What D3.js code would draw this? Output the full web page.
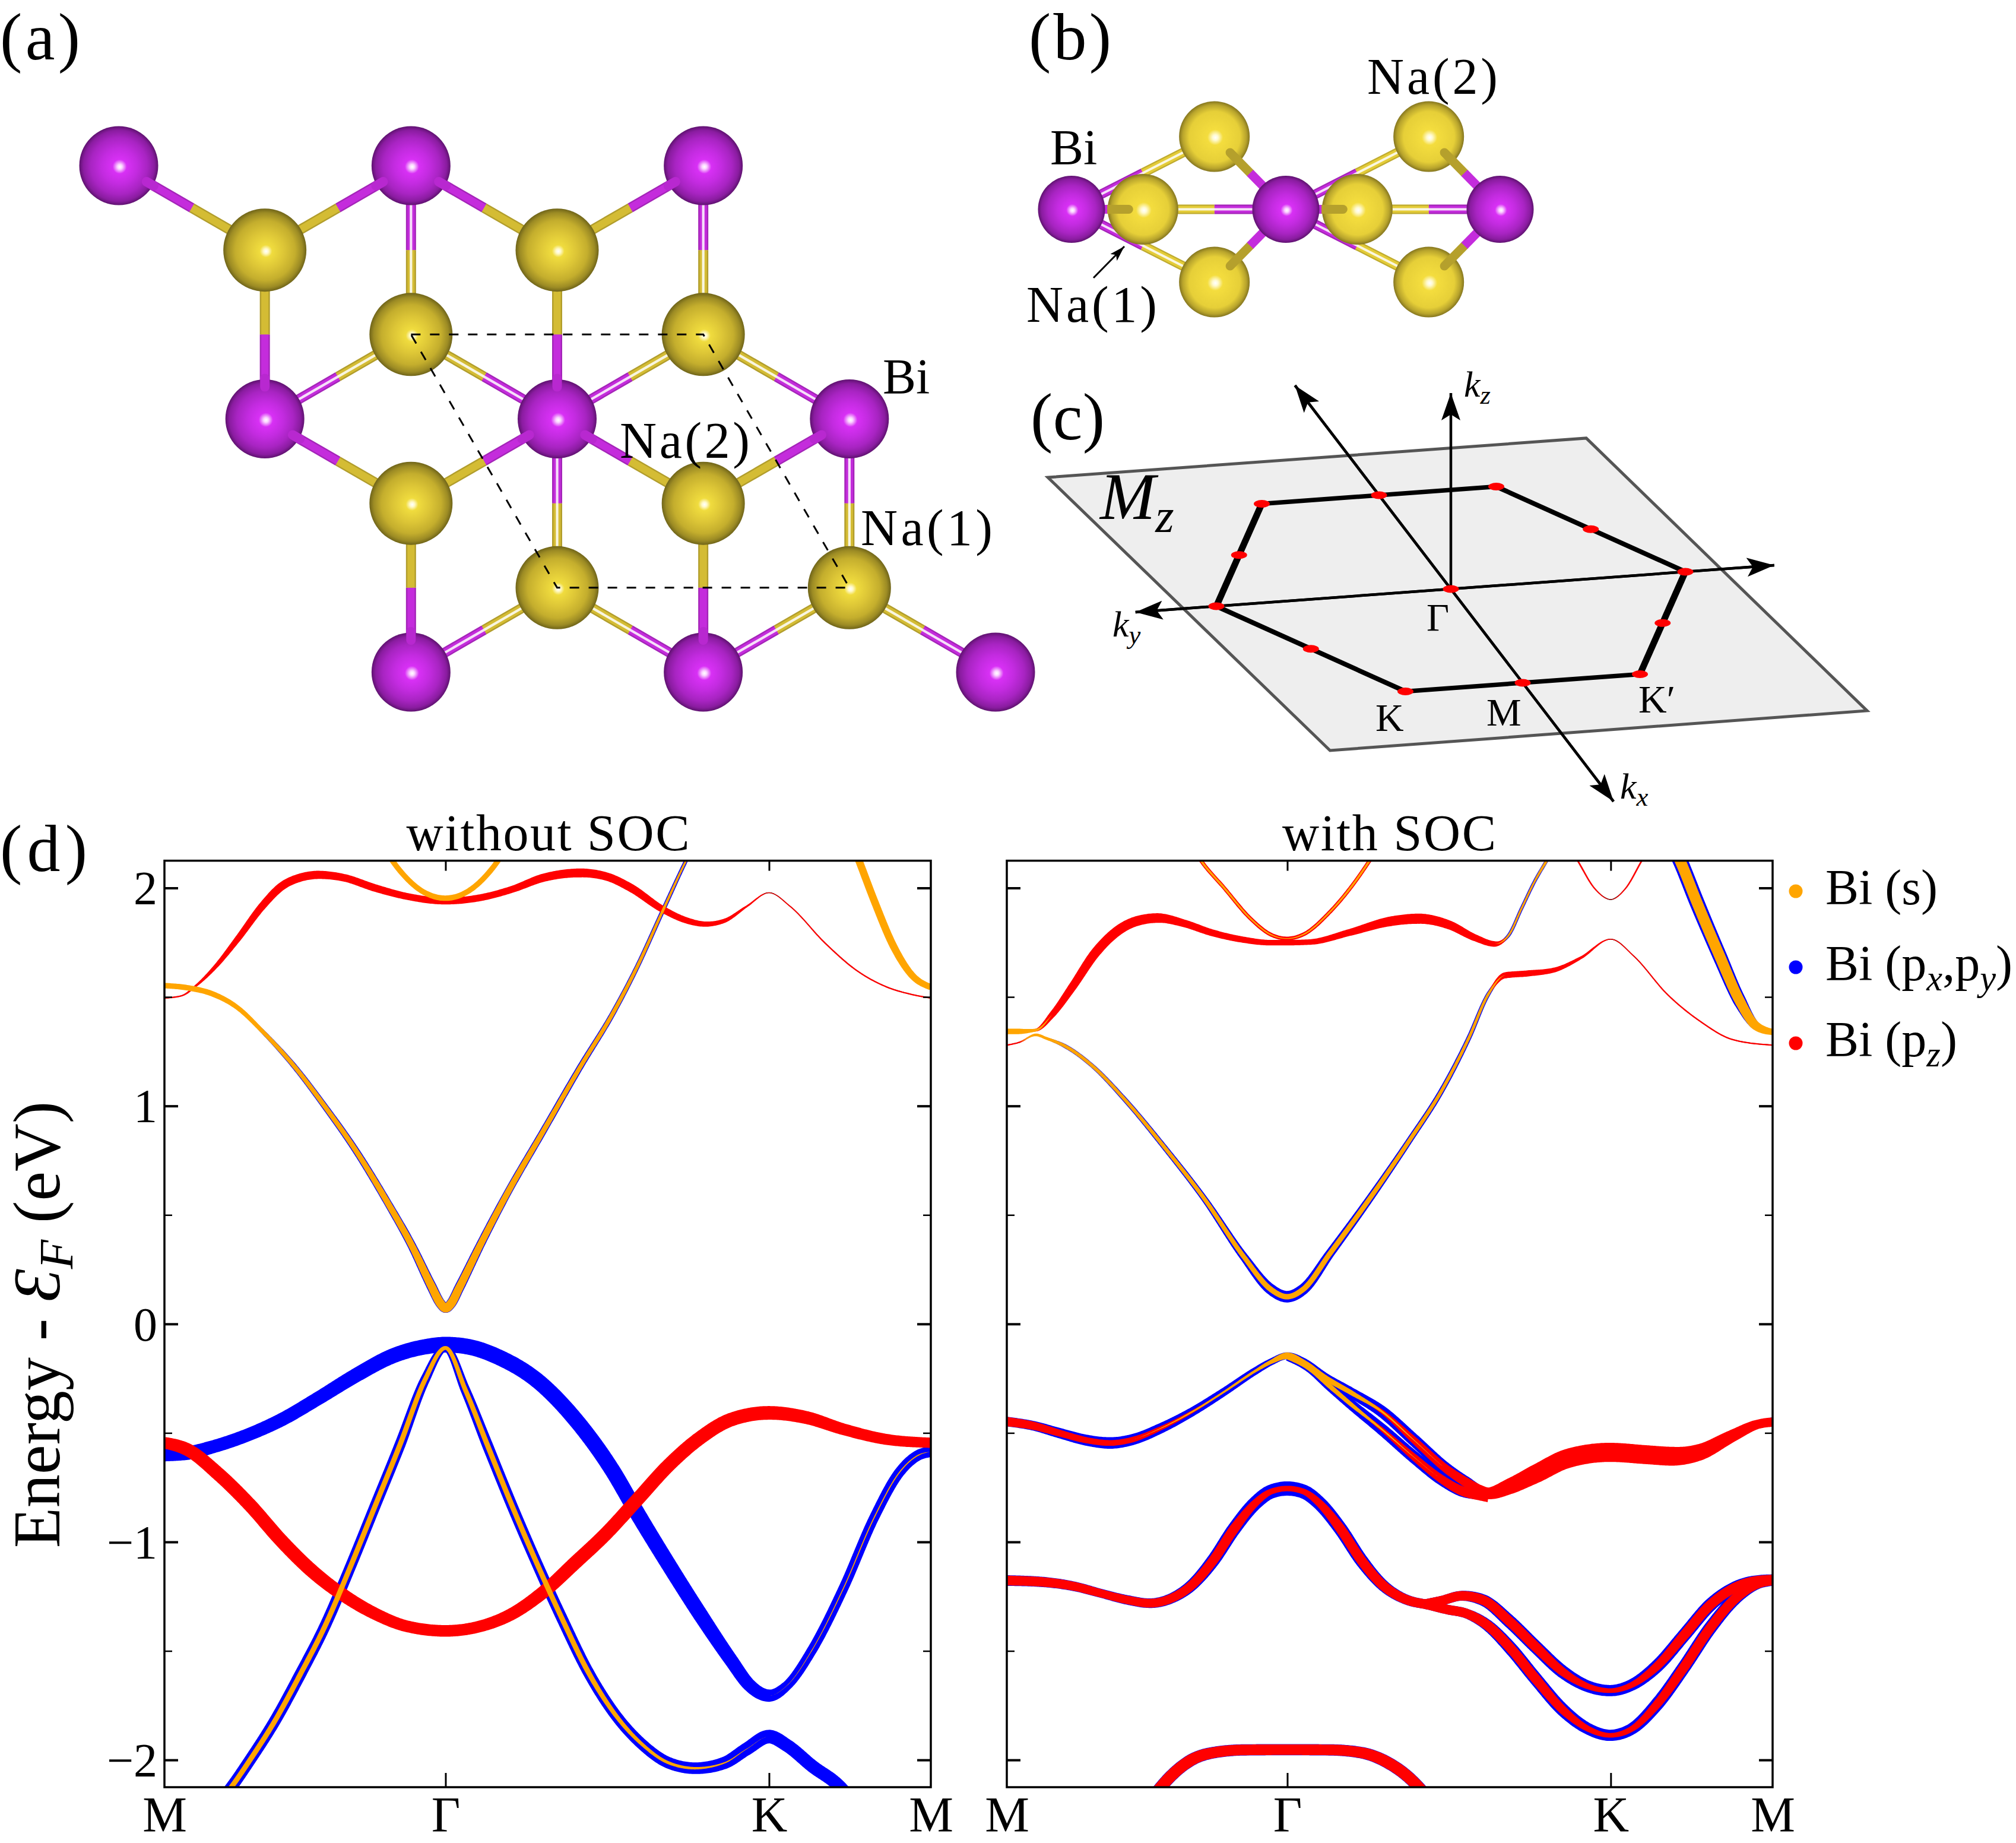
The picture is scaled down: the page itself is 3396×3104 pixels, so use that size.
<!DOCTYPE html>
<html><head><meta charset="utf-8">
<script src="https://cdn.jsdelivr.net/npm/d3@7/dist/d3.min.js"></script>
<style>html,body{margin:0;padding:0;background:#fff}svg{display:block}text{font-family:"Liberation Serif",serif;fill:#000}</style>
</head><body><div id="chart"></div>
<script>
// ---------- DATA ----------
// Fat-band rows: [k (path length), E (eV), weight s, weight px/py, weight pz]
const nsUpperPz=[[0,1.495,0,0,.1],[27,1.505,0,0,.1],[52,1.555,0,0,.17],[82,1.64,0,0,.3],[117,1.765,0,0,.45],[157,1.918,0,0,.55],[187,2.006,0,0,.6],[217,2.047,0,0,.6],[247,2.06,0,0,.6],[287,2.047,0,0,.55],[337,2.0,0,0,.55],[387,1.962,0,0,.5],[450,1.94,0,0,.5],[507,1.956,0,0,.5],[557,1.994,0,0,.5],[607,2.047,0,0,.6],[667,2.069,0,0,.65],[707,2.053,0,0,.6],[747,2.0,0,0,.6],[797,1.903,0,0,.5],[837,1.85,0,0,.45],[867,1.834,0,0,.38],[897,1.85,0,0,.3],[932,1.915,0,0,.14],[968,1.978,0,0,.05],[1002,1.915,0,0,.08],[1057,1.749,0,0,.1],[1107,1.624,0,0,.1],[1157,1.545,0,0,.1],[1197,1.511,0,0,.1],[1227,1.495,0,0,.1]];
const nsCond=[[0,1.552,.4,0,0],[37,1.542,.4,0,0],[77,1.514,.4,0,0],[117,1.451,.35,.1,0],[157,1.342,.3,.3,0],[207,1.185,.32,.4,0],[257,.997,.35,.45,0],[307,.793,.38,.5,0],[357,.558,.45,.55,0],[397,.354,.5,.62,0],[427,.176,.6,.72,0],[442,.094,.65,.72,0],[450,.072,.65,.7,0],[459,.094,.65,.72,0],[472,.166,.6,.72,0],[507,.37,.5,.62,0],[547,.589,.45,.55,0],[607,.887,.38,.5,0],[667,1.185,.32,.45,0],[717,1.42,.3,.4,0],[757,1.639,.25,.35,0],[797,1.89,.2,.32,0],[835,2.125,.15,.28,0],[857,2.25,.15,.28,0]];
const nsTopS=[[345,2.22,.4,0,0],[365,2.125,.4,0,0],[387,2.047,.4,0,0],[417,1.978,.4,0,0],[450,1.953,.4,0,0],[482,1.978,.4,0,0],[512,2.047,.4,0,0],[534,2.125,.4,0,0],[554,2.22,.4,0,0]];
const nsRightS=[[1095,2.25,.55,0,0],[1112,2.125,.55,0,0],[1137,1.937,.55,0,0],[1167,1.734,.55,0,0],[1197,1.599,.5,0,0],[1227,1.545,.45,0,0]];
const nsBluePxy=[[0,-.599,0,1.0,0],[37,-.592,0,1.0,0],[77,-.564,0,.95,0],[137,-.505,0,.95,0],[187,-.44,0,.98,0],[247,-.34,0,1.0,0],[307,-.235,0,1.05,0],[367,-.145,0,1.1,0],[417,-.105,0,1.12,0],[450,-.095,0,1.15,0],[487,-.105,0,1.15,0],[537,-.155,0,1.15,0],[597,-.26,0,1.15,0],[657,-.435,0,1.15,0],[717,-.671,0,1.15,0],[757,-.868,0,1.15,0],[807,-1.103,0,1.12,0],[857,-1.329,0,1.1,0],[907,-1.542,0,1.0,0],[937,-1.658,0,.95,0],[968,-1.705,0,.9,0],[997,-1.658,.02,.7,0],[1037,-1.495,.05,.72,0],[1087,-1.213,.07,.72,0],[1137,-.884,.08,.72,0],[1177,-.68,.08,.75,0],[1207,-.602,.08,.78,0],[1227,-.586,0,.8,0]];
const nsRedPz=[[0,-.545,0,0,.85],[37,-.577,0,0,.95],[87,-.69,0,0,1.0],[137,-.831,0,0,1.0],[187,-.994,0,0,1.0],[237,-1.135,0,0,1.0],[287,-1.245,0,0,.95],[337,-1.329,0,0,.9],[387,-1.386,0,0,.85],[450,-1.408,0,0,.85],[507,-1.386,0,0,.85],[557,-1.329,0,0,.9],[607,-1.229,0,0,.95],[657,-1.097,0,0,1.0],[707,-.962,0,0,1.0],[757,-.806,0,0,1.0],[807,-.649,0,0,1.0],[857,-.524,0,0,1.0],[907,-.439,0,0,1.0],[968,-.408,0,0,1.0],[1027,-.429,0,0,.95],[1087,-.483,0,0,.85],[1157,-.53,0,0,.8],[1227,-.545,0,0,.75]];
const nsDeep=[[77,-2.232,.38,.85,0],[107,-2.125,.38,.85,0],[137,-2.0,.38,.85,0],[177,-1.82,.38,.85,0],[217,-1.61,.38,.85,0],[257,-1.386,.38,.82,0],[297,-1.119,.38,.8,0],[337,-.837,.38,.8,0],[377,-.555,.38,.8,0],[417,-.257,.35,.7,0],[450,-.11,.28,.5,0],[482,-.304,.35,.7,0],[517,-.555,.38,.8,0],[557,-.837,.38,.8,0],[597,-1.103,.38,.8,0],[637,-1.354,.38,.82,0],[677,-1.589,.38,.82,0],[722,-1.793,.32,.82,0],[767,-1.934,.25,.82,0],[807,-2.013,.22,.85,0],[850,-2.038,.18,.85,0],[897,-2.013,.1,.9,0],[932,-1.95,.03,.95,0],[968,-1.893,0,1.0,0],[997,-1.934,0,.95,0],[1037,-2.028,0,.95,0],[1082,-2.125,0,.95,0],[1112,-2.232,0,.95,0]];

const socUpper=[[0,1.342,.4,0,.1],[19,1.342,.4,0,.1],[44,1.348,.2,0,.2],[69,1.42,0,0,.45],[99,1.545,0,0,.6],[134,1.702,0,0,.7],[169,1.806,0,0,.72],[199,1.85,0,0,.72],[229,1.862,0,0,.7],[269,1.837,0,0,.55],[309,1.796,0,0,.5],[359,1.762,0,0,.45],[399,1.749,0,0,.4],[424,1.749,0,0,.4],[459,1.752,0,0,.4],[519,1.796,0,0,.5],[579,1.846,0,0,.7],[624,1.859,0,0,.75],[669,1.831,0,0,.65],[709,1.771,0,0,.5],[739,1.743,0,.15,.4],[759,1.781,.15,.25,.1],[779,1.906,.15,.25,.1],[799,2.031,.15,.25,.1],[817,2.125,.2,.25,.05],[835,2.22,.2,.25,.05]];
const socLower=[[0,1.279,0,0,.1],[19,1.292,0,0,.1],[44,1.326,.2,0,.1],[60,1.31,.2,.15,.1],[89,1.273,.25,.3,.05],[129,1.185,.25,.3,.05],[179,1.028,.25,.35,0],[239,.809,.28,.4,0],[299,.574,.3,.45,0],[359,.307,.35,.6,0],[399,.16,.4,.8,0],[424,.125,.4,.85,0],[449,.16,.4,.8,0],[489,.323,.38,.65,0],[549,.574,.35,.55,0],[609,.84,.3,.45,0],[659,1.075,.25,.4,0],[699,1.31,.22,.35,.1],[729,1.514,.2,.3,.15],[754,1.599,0,.1,.45],[789,1.608,0,0,.45],[829,1.624,0,0,.35],[869,1.68,0,0,.2],[914,1.765,0,0,.06],[949,1.687,0,0,.08],[999,1.514,0,0,.1],[1049,1.389,0,0,.1],[1099,1.304,0,0,.1],[1159,1.279,0,0,.1]];
const socTopGamma=[[274,2.22,.15,.1,.28],[294,2.125,.15,.1,.28],[329,2.0,.15,.1,.28],[369,1.859,.12,.08,.28],[399,1.787,.1,0,.28],[424,1.768,.05,0,.28],[449,1.787,.1,0,.28],[489,1.89,.12,.08,.28],[524,2.016,.15,.1,.28],[549,2.125,.15,.1,.28],[569,2.22,.15,.1,.28]];
const socTopK=[[845,2.22,0,0,.12],[864,2.125,0,0,.12],[889,2.0,0,0,.1],[914,1.947,0,0,.03],[937,2.0,0,0,.1],[961,2.125,0,0,.12],[980,2.22,0,0,.12]];
const socRightS=[[1004,2.22,.8,1.1,.05],[1019,2.125,.8,1.1,.05],[1044,1.937,.8,1.1,.05],[1079,1.687,.8,1.05,.05],[1109,1.483,.75,.95,.05],[1134,1.367,.65,.6,0],[1159,1.339,.45,0,0]];
const socVbUpper=[[0,-.448,0,.7,.68],[40,-.467,0,.7,.6],[80,-.501,0,.75,.5],[120,-.533,0,.8,.45],[156,-.546,0,.85,.42],[192,-.529,0,.8,.4],[232,-.48,.05,.75,.3],[280,-.404,.12,.65,.2],[328,-.313,.15,.6,.1],[376,-.216,.2,.55,.05],[400,-.174,.3,.5,0],[424.5,-.146,.5,.5,0],[449,-.175,.35,.6,.05],[481,-.245,.4,.7,.08],[521,-.315,.35,.75,.1],[569,-.405,.15,.85,.3],[617,-.535,.05,.9,.5],[665,-.665,0,.9,.6],[697,-.73,0,.85,.7],[717,-.765,0,.7,.8],[729,-.777,0,.5,.85],[761,-.745,0,.5,1.15],[801,-.687,0,.5,1.35],[849,-.617,0,.5,1.4],[913,-.589,0,.5,1.4],[969,-.6,0,.5,1.38],[1009,-.607,0,.5,1.38],[1049,-.588,0,.5,1.2],[1097,-.515,0,.5,.9],[1137,-.46,0,.5,.68],[1159,-.45,0,.7,.68]];
const socVbLower=[[424.5,-.153,.3,.5,0],[457,-.202,.35,.6,.05],[489,-.286,.35,.7,.08],[521,-.369,.3,.75,.1],[569,-.487,.12,.85,.3],[617,-.613,.03,.9,.5],[657,-.71,0,.9,.6],[689,-.766,0,.85,.7],[717,-.785,0,.7,.8],[729,-.791,0,.4,.85]];
const socMidShared=[[0,-1.177,0,.78,.72],[56,-1.184,0,.75,.7],[104,-1.205,0,.7,.65],[144,-1.237,0,.65,.6],[184,-1.267,0,.7,.62],[216,-1.281,0,.7,.65],[248,-1.26,0,.75,.65],[280,-1.198,0,.85,.68],[312,-1.086,0,.95,.7],[344,-.94,0,.98,.72],[376,-.822,0,1.0,.55],[400,-.769,0,1.03,.42],[424.5,-.755,0,1.05,.4],[449,-.769,0,1.03,.42],[473,-.822,0,1.0,.55],[505,-.94,0,.98,.72],[537,-1.086,0,.95,.72],[569,-1.198,0,.85,.72],[601,-1.26,0,.75,.7],[633,-1.285,0,.7,.7]];
const socMidUpper=[[633,-1.285,0,.7,.7],[657,-1.27,0,.7,.7],[689,-1.247,0,.72,.7],[721,-1.267,0,.85,.72],[761,-1.365,0,.95,.72],[801,-1.483,0,.95,.72],[841,-1.595,0,.95,.62],[881,-1.664,0,.85,.42],[913,-1.682,0,.82,.33],[945,-1.657,0,.85,.42],[985,-1.567,0,.95,.62],[1025,-1.428,0,.95,.72],[1065,-1.288,0,.95,.72],[1105,-1.205,0,.9,.72],[1137,-1.177,0,.78,.7],[1159,-1.173,0,.78,.72]];
const socMidLower=[[633,-1.285,0,.7,.7],[665,-1.309,0,.7,.7],[697,-1.33,0,.72,.7],[729,-1.386,0,.85,.72],[761,-1.483,0,.95,.72],[801,-1.63,0,.95,.72],[841,-1.769,0,.95,.62],[881,-1.859,0,.85,.42],[913,-1.887,0,.82,.33],[945,-1.859,0,.85,.42],[985,-1.741,0,.95,.62],[1025,-1.574,0,.95,.72],[1065,-1.393,0,.95,.72],[1105,-1.253,0,.9,.72],[1137,-1.191,0,.78,.7],[1159,-1.177,0,.78,.72]];
const socDeep=[[200,-2.26,0,.9,.85],[224,-2.159,0,.9,.85],[248,-2.075,0,.9,.85],[280,-1.999,0,.9,.85],[312,-1.967,0,.85,.8],[360,-1.954,0,.82,.78],[424.5,-1.953,0,.82,.78],[489,-1.954,0,.82,.78],[537,-1.967,0,.85,.8],[577,-2.013,0,.9,.85],[609,-2.082,0,.9,.85],[633,-2.159,0,.9,.85],[657,-2.26,0,.9,.85]];

const noSocBands=[nsCond,nsTopS,nsRightS,nsBluePxy,nsRedPz,nsDeep,nsUpperPz];
const socBands=[socUpper,socLower,socTopGamma,socTopK,socRightS,socVbUpper,socVbLower,socMidShared,socMidUpper,socMidLower,socDeep];
const energyMajorTicks=[-2,-1,0,1,2], energyMinorTicks=[-1.5,-.5,.5,1.5];
const kLabels=["M","Γ","K","M"];
const noSocKTicks=[0,450,968,1227], socKTicks=[0,424.5,914,1159];
const legendEntries=[[["Bi (s)",""]],[["Bi (p",""],["x","si"],[",p",""],["y","si"],[")",""]],[["Bi (p",""],["z","si"],[")",""]]];
const legendColours=["#ffa500","#0000ff","#ff0000"];

// Panel (a) lattice: [column,row]
const aBi=[[0,0],[2,0],[4,0],[1,3],[3,3],[5,3],[2,6],[4,6],[6,6]];
const aNa=[[1,1],[3,1],[2,2],[4,2],[2,4],[4,4],[3,5],[5,5]];
const aBonds=[[0,0,1,1],[2,0,1,1],[2,0,3,1],[4,0,3,1],[1,3,1,1],[3,3,3,1],[1,3,2,4],[3,3,2,4],[3,3,4,4],[5,3,4,4],[2,6,2,4],[4,6,4,4]];
const aBrightBonds=[[2,0,2,2],[4,0,4,2],[3,3,3,5],[5,3,5,5],[1,3,2,2],[3,3,2,2],[3,3,4,2],[5,3,4,2],[2,6,3,5],[4,6,3,5],[4,6,5,5],[6,6,5,5]];
const aCell=[[2,2],[4,2],[5,5],[3,5]];
// Panel (b) lattice
const bBi=[[0,0],[3,0],[6,0]];
const bNa1=[[1,0],[4,0]];
const bNa2=[[2,-1],[2,1],[5,-1],[5,1]];
const bBackBonds=[[0,0,2,-1],[0,0,2,1],[3,0,5,-1],[3,0,5,1],[3,0,1,0],[6,0,4,0]];
const bFrontBonds=[[3,0,2,-1,.78],[3,0,2,1,.78],[6,0,5,-1,.78],[6,0,5,1,.78],[0,0,1,0,.8],[3,0,4,0,.8]];
// Panel (c): reciprocal coordinates [kx,ky]
const cPlane=[[-1.425,1.282],[-1.422,-1.013],[1.537,-1.304],[1.54,.987]];
const cHexK=[[0,1],[1,.5],[1,-.5],[0,-1],[-1,-.5],[-1,.5]];
const cHexEdgeWeight=[8,7.5,11,8,7.5,11];
const cHexM=[[1,0],[.5,.75],[-.5,.75],[-1,0],[-.5,-.75],[.5,-.75]];
const cGamma=[0,0];
const cAxisKy=[[0,-1.379],[0,1.345]];
const cAxisKx=[[-2.17,0],[2.265,0]];
const cAxisKz=1;

// ---------- SET-UP ----------
const W=3396,H=3104;
const svg=d3.select("#chart").append("svg").attr("width",W).attr("height",H).attr("viewBox",`0 0 ${W} ${H}`);
svg.append("rect").attr("width",W).attr("height",H).attr("fill","#fff");
const defs=svg.append("defs");
const BLUE="#0000ff",RED="#ff0000",ORANGE="#ffa500";

function rich(g,x,y,size,parts,o={}){
  const t=g.append("text").attr("x",x).attr("y",y).attr("font-size",size);
  if(o.anchor)t.attr("text-anchor",o.anchor);
  if(o.transform)t.attr("transform",o.transform);
  let pend=0;
  parts.forEach(([s,k])=>{
    const ts=t.append("tspan").text(s);
    const sub=k==="s"||k==="si";
    let dy=pend;
    if(sub){dy+=size*.2;pend=-size*.2;ts.attr("font-size",size*.72);}else pend=0;
    if(dy)ts.attr("dy",dy);
    if(k==="i"||k==="si")ts.attr("font-style","italic");
  });
  return t;
}
function sphereGrad(id,stops){
  const g=defs.append("radialGradient").attr("id",id).attr("cx",.5).attr("cy",.5).attr("r",.5).attr("fx",.515).attr("fy",.515);
  stops.forEach(([o,c])=>g.append("stop").attr("offset",o).attr("stop-color",c));
}
sphereGrad("bi",[[0,"#fff"],[.06,"#fbd5ff"],[.18,"#d830f5"],[.45,"#c32be0"],[.72,"#a824c2"],[.9,"#8a1ca0"],[1,"#5f1270"]]);
sphereGrad("naDark",[[0,"#fff"],[.06,"#fff9c8"],[.15,"#f0dc3e"],[.45,"#dcc536"],[.72,"#c4ae2d"],[.9,"#9c8b24"],[1,"#6f6419"]]);
sphereGrad("naBright",[[0,"#fff"],[.08,"#fffad0"],[.22,"#f4dd3e"],[.72,"#e6cf38"],[.9,"#b8a42c"],[1,"#85761f"]]);
const PURPLE="#c42cdc",GOLD="#d4bc34",BRIGHT="#e4cc38";

// ---------- PANEL (a) ----------
const ga=svg.append("g");
const aX=d3.scaleLinear([0,6],[200,1677]),aY=d3.scaleLinear([0,6],[279,1132]);
function seg(g,x1,y1,x2,y2,w,c){return g.append("line").attr("x1",x1).attr("y1",y1).attr("x2",x2).attr("y2",y2).attr("stroke",c).attr("stroke-width",w);}
function halfBond(g,x1,y1,x2,y2,w,c1,c2,bright){
  const mx=(x1+x2)/2,my=(y1+y2)/2;
  seg(g,x1,y1,mx,my,w,d3.color(c1).darker(.5));
  seg(g,mx,my,x2,y2,w,d3.color(c2).darker(.5));
  seg(g,x1,y1,mx,my,w*.72,c1);
  seg(g,mx,my,x2,y2,w*.72,c2);
  if(bright)seg(g,x1,y1,x2,y2,w*.25,"#fff").attr("opacity",.85);
}
aBonds.forEach(b=>halfBond(ga,aX(b[0]),aY(b[1]),aX(b[2]),aY(b[3]),17,PURPLE,GOLD,false));
aBrightBonds.forEach(b=>halfBond(ga,aX(b[0]),aY(b[1]),aX(b[2]),aY(b[3]),17,PURPLE,GOLD,true));
ga.selectAll(".na").data(aNa).join("circle").attr("cx",d=>aX(d[0])).attr("cy",d=>aY(d[1])).attr("r",70).attr("fill","url(#naDark)");
ga.selectAll(".bi").data(aBi).join("circle").attr("cx",d=>aX(d[0])).attr("cy",d=>aY(d[1])).attr("r",66.5).attr("fill","url(#bi)");
aBonds.forEach(b=>{ // bond ends that sit in front of the Bi spheres
  const x1=aX(b[0]),y1=aY(b[1]),x2=aX(b[2]),y2=aY(b[3]),L=Math.hypot(x2-x1,y2-y1),ux=(x2-x1)/L,uy=(y2-y1)/L;
  seg(ga,x1+ux*54,y1+uy*54,x1+ux*68,y1+uy*68,16,"#b828d0").attr("stroke-linecap","round");
});
ga.append("path").attr("d",d3.line().x(d=>aX(d[0])).y(d=>aY(d[1]))(aCell)+"Z").attr("fill","none").attr("stroke","#000").attr("stroke-width",3).attr("stroke-dasharray","16 16");
rich(ga,1487,663,84,[["Bi",""]]);
rich(ga,1044,771,86,[["Na(2)",""]]).attr("textLength",219);
rich(ga,1450,918,86,[["Na(1)",""]]).attr("textLength",222);

// ---------- PANEL (b) ----------
const gb=svg.append("g");
const bX=d3.scaleLinear([0,6],[1805,2527]),bY=d3.scaleLinear([-1,1],[230,475]);
bBackBonds.forEach(b=>halfBond(gb,bX(b[0]),bY(b[1]),bX(b[2]),bY(b[3]),16,PURPLE,BRIGHT,true));
gb.selectAll(".na2").data(bNa2.concat(bNa1)).join("circle").attr("cx",d=>bX(d[0])).attr("cy",d=>bY(d[1])).attr("r",59.5).attr("fill","url(#naBright)");
bFrontBonds.forEach(b=>{
  const x1=bX(b[0]),y1=bY(b[1]),x2=bX(b[2]),y2=bY(b[3]),t=b[4];
  const ex=x1+(x2-x1)*t,ey=y1+(y2-y1)*t,mx=(x1+x2)/2,my=(y1+y2)/2;
  seg(gb,mx,my,ex,ey,15,"#b5a02c").attr("stroke-linecap","round");
  seg(gb,x1,y1,mx,my,15,PURPLE);
});
gb.selectAll(".bi").data(bBi).join("circle").attr("cx",d=>bX(d[0])).attr("cy",d=>bY(d[1])).attr("r",56.5).attr("fill","url(#bi)");
rich(gb,1769,277,84,[["Bi",""]]);
rich(gb,2303,158,86,[["Na(2)",""]]).attr("textLength",220);
rich(gb,1729,542,86,[["Na(1)",""]]).attr("textLength",220);
defs.append("marker").attr("id","headSmall").attr("markerUnits","userSpaceOnUse").attr("markerWidth",30).attr("markerHeight",20).attr("refX",26).attr("refY",8).attr("orient","auto")
  .append("path").attr("d","M0,0L26,8L0,16L6,8Z").attr("fill","#000");
seg(gb,1842,468,1894,415,3,"#000").attr("marker-end","url(#headSmall)");

// ---------- PANEL (c) ----------
const gc=svg.append("g");
const cXx=d3.scaleLinear([0,1],[0,121]),cXy=d3.scaleLinear([0,1],[0,-395]),cYx=d3.scaleLinear([0,1],[0,158]),cYy=d3.scaleLinear([0,1],[0,29]),cZ=d3.scaleLinear([0,1],[0,-330]);
const px=d=>2444+cXx(d[0])+cXy(d[1]),py=d=>992+cYx(d[0])+cYy(d[1]);
gc.append("path").attr("d",d3.line().x(px).y(py)(cPlane)+"Z").attr("fill","#eeeeee").attr("stroke","#555").attr("stroke-width",5).attr("stroke-linejoin","miter");
cHexK.forEach((d,i)=>{const e=cHexK[(i+1)%6];seg(gc,px(d),py(d),px(e),py(e),cHexEdgeWeight[i],"#000");});
defs.append("marker").attr("id","head").attr("markerUnits","userSpaceOnUse").attr("markerWidth",60).attr("markerHeight",40).attr("refX",46).attr("refY",16).attr("orient","auto")
  .append("path").attr("d","M0,0L46,16L0,32L10,16Z").attr("fill","#000");
[[cAxisKy[0],cAxisKy[1]],[cAxisKy[1],cAxisKy[0]],[cAxisKx[0],cAxisKx[1]],[cAxisKx[1],cAxisKx[0]]].forEach(a=>seg(gc,px(a[0]),py(a[0]),px(a[1]),py(a[1]),4.5,"#000").attr("marker-end","url(#head)"));
seg(gc,px(cGamma),py(cGamma),px(cGamma),py(cGamma)+cZ(cAxisKz),4.5,"#000").attr("marker-end","url(#head)");
gc.selectAll(".pt").data(cHexK.concat(cHexM,[cGamma])).join("ellipse").attr("cx",px).attr("cy",py).attr("rx",13.5).attr("ry",6.5).attr("fill","#ff0000");
rich(gc,2466,668,62,[["k","i"],["z","si"]]);
rich(gc,1874,1072,62,[["k","i"],["y","si"]]);
rich(gc,2729,1345,62,[["k","i"],["x","si"]]);
rich(gc,1853,874,112,[["M","i"],["z","si"]]);
rich(gc,2403,1062,66,[["Γ",""]]);
rich(gc,2317,1231,66,[["K",""]]);
rich(gc,2504,1222,66,[["M",""]]);
rich(gc,2760,1200,66,[["K′",""]]);

// panel letters
[["(a)",0,100,135],["(b)",1733,100,139],["(c)",1736,740,125],["(d)",0,1467,147]].forEach(d=>rich(svg,d[1],d[2],112,[[d[0],""]]).attr("textLength",d[3]));

// ---------- PANEL (d): fat bands ----------
const yE=d3.scaleLinear([-2.125,2.125],[3010,1449.6]);
const thick=d3.scaleLinear([0,1],[0,23]);
const WEIGHT={s:2,pxy:3,pz:4};
const helper=svg.append("path").attr("fill","none").attr("stroke","none");
function ribbon(rows,xs,col){
  if(!rows.some(r=>r[col]>0))return null;
  helper.attr("d",d3.line().x(r=>xs(r[0])).y(r=>yE(r[1])).curve(d3.curveMonotoneX)(rows));
  const node=helper.node(),L=node.getTotalLength(),n=Math.ceil(L/2);
  const wt=d3.scaleLinear(rows.map(r=>r[0]),rows.map(r=>r[col]));
  const P=d3.range(n+1).map(i=>node.getPointAtLength(L*i/n));
  const up=[],dn=[];
  P.forEach((p,i)=>{
    const a=P[Math.max(0,i-1)],b=P[Math.min(n,i+1)];
    let dx=b.x-a.x,dy=b.y-a.y;const m=Math.hypot(dx,dy)||1;dx/=m;dy/=m;
    const h=thick(wt(xs.invert(p.x)))/2;
    up.push([p.x+dy*h,p.y-dx*h]);dn.push([p.x-dy*h,p.y+dx*h]);
  });
  return d3.line()(up.concat(dn.reverse()))+"Z";
}
function panel(bands,xs,kt,withLabels,clipId){
  const [x0,x1]=xs.range(),top=yE.range()[1],bot=yE.range()[0];
  defs.append("clipPath").attr("id",clipId).append("rect").attr("x",x0).attr("y",top).attr("width",x1-x0).attr("height",bot-top);
  const g=svg.append("g").attr("clip-path",`url(#${clipId})`);
  bands.forEach(rows=>g.append("path").attr("d",d3.line().x(r=>xs(r[0])).y(r=>yE(r[1])).curve(d3.curveMonotoneX)(rows)).attr("fill","none").attr("stroke","#000").attr("stroke-width",1.5));
  [[WEIGHT.pxy,BLUE],[WEIGHT.pz,RED],[WEIGHT.s,ORANGE]].forEach(([col,c])=>{
    bands.forEach(rows=>{const d=ribbon(rows,xs,col);if(d)g.append("path").attr("d",d).attr("fill",c);});
  });
  const axisStyle=a=>{a.select(".domain").remove();a.selectAll("line").attr("stroke","#000");a.selectAll("text").attr("font-family",'"Liberation Serif",serif').attr("fill","#000");};
  const left=svg.append("g").attr("transform",`translate(${x0},0)`).call(d3.axisLeft(yE).tickValues(energyMajorTicks).tickSize(-23).tickPadding(12).tickFormat(withLabels?d3.format("d"):""));
  const leftMin=svg.append("g").attr("transform",`translate(${x0},0)`).call(d3.axisLeft(yE).tickValues(energyMinorTicks).tickSize(-13).tickFormat(""));
  const right=svg.append("g").attr("transform",`translate(${x1},0)`).call(d3.axisRight(yE).tickValues(energyMajorTicks).tickSize(-23).tickFormat(""));
  const rightMin=svg.append("g").attr("transform",`translate(${x1},0)`).call(d3.axisRight(yE).tickValues(energyMinorTicks).tickSize(-13).tickFormat(""));
  [left,right].forEach(a=>{axisStyle(a);a.selectAll("line").attr("stroke-width",4);});
  [leftMin,rightMin].forEach(a=>{axisStyle(a);a.selectAll("line").attr("stroke-width",2.5);});
  left.selectAll("text").attr("font-size",80).attr("dy",".34em");
  const inner=kt.slice(1,-1);
  const bottom=svg.append("g").attr("transform",`translate(0,${bot})`).call(d3.axisBottom(xs).tickValues(kt).tickSize(-24).tickFormat((d,i)=>kLabels[i]));
  axisStyle(bottom);bottom.selectAll("line").attr("stroke-width",3).attr("opacity",(d,i)=>i>0&&i<kt.length-1?1:0);
  bottom.selectAll("text").attr("font-size",84).attr("y",75).attr("dy",0);
  const topA=svg.append("g").attr("transform",`translate(0,${top})`).call(d3.axisTop(xs).tickValues(inner).tickSize(-17).tickFormat(""));
  axisStyle(topA);topA.selectAll("line").attr("stroke-width",3);
  svg.append("rect").attr("x",x0).attr("y",top).attr("width",x1-x0).attr("height",bot-top).attr("fill","none").attr("stroke","#000").attr("stroke-width",3.5);
}
const xNoSoc=d3.scaleLinear([0,1227],[277,1568]);
const xSoc=d3.scaleLinear([0,1159],[1696,2986]);
panel(noSocBands,xNoSoc,noSocKTicks,true,"clipL");
panel(socBands,xSoc,socKTicks,false,"clipR");
helper.remove();
rich(svg,923,1432,86,[["without SOC",""]],{anchor:"middle"}).attr("textLength",477);
rich(svg,2340,1432,86,[["with SOC",""]],{anchor:"middle"}).attr("textLength",360);
rich(svg,100,2231,112,[["Energy - ",""],["Ɛ","i"],["F","si"],[" (eV)",""]],{anchor:"middle",transform:"rotate(-90 100 2231)"});

// legend
const legY=d3.scalePoint().domain(d3.range(legendEntries.length)).range([1501,1757]);
legendEntries.forEach((parts,i)=>{
  svg.append("circle").attr("cx",3025).attr("cy",legY(i)).attr("r",11.5).attr("fill",legendColours[i]);
  rich(svg,3075,legY(i)+22,84,parts);
});
</script></body></html>
